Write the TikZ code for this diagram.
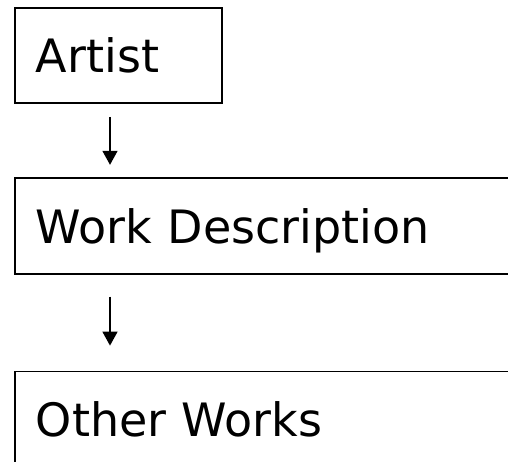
\documentclass[tikz,border=0pt]{standalone}
\usepackage{fontspec}
\setmainfont{DejaVu Sans}
\usepackage{tikz}
\usetikzlibrary{positioning, arrows.meta}

\begin{document}
\begin{tikzpicture}[x=1pt, y=-1pt,
    box/.style={draw, line width=1.8pt, rectangle, inner xsep=21pt, inner ysep=0pt,
                align=left, text depth=0pt, font=\fontsize{46}{50}\selectfont},
    flow/.style={-{Triangle[length=14pt, width=15pt]}, line width=1.6pt}]
   \useasboundingbox (0,0) rectangle (508,461);
   \clip (0,0) rectangle (508,461);

   % the three boxes, top to bottom
   \node[box, anchor=north west, text width=165pt, minimum height=95pt] (artist) at (14,7) {Artist};
   \node[box, below=73pt of artist.south west, anchor=north west,
         text width=478pt, minimum height=96pt] (work) {Work Description};
   \node[box, below=96pt of work.south west, anchor=north west,
         text width=478pt, minimum height=96pt] (other) {Other Works};

   % arrows between them
   \draw[flow, shorten <=13pt, shorten >=12pt]
      ([xshift=96pt]artist.south west) -- ([xshift=96pt]work.north west);
   \draw[flow, shorten <=22pt, shorten >=25pt]
      ([xshift=96pt]work.south west) -- ([xshift=96pt]other.north west);
\end{tikzpicture}
\end{document}
